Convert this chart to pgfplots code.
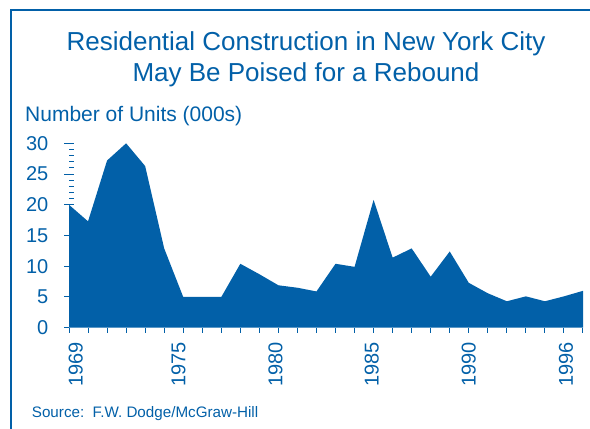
\documentclass[border=0pt]{standalone}
\usepackage{pgfplots}
\pgfplotsset{compat=1.18}
\usepackage{fontspec}
\setmainfont{Liberation Sans}
\definecolor{nyblue}{RGB}{2,96,168}
\pgfplotstableread{
year units
1969 20.0
1970 17.3
1971 27.2
1972 30.0
1973 26.3
1974 12.9
1975 5.0
1976 5.0
1977 5.0
1978 10.4
1979 8.7
1980 6.9
1981 6.5
1982 5.9
1983 10.4
1984 9.9
1985 20.8
1986 11.4
1987 12.9
1988 8.3
1989 12.4
1990 7.3
1991 5.6
1992 4.3
1993 5.1
1994 4.3
1995 5.1
1996 6.0
}\datatable
\begin{document}
\begin{tikzpicture}
\begin{axis}[
  at={(69bp,101.3bp)}, anchor=south west,
  scale only axis, width=514bp, height=184.4bp,
  xmin=1969, xmax=1996, ymin=0, ymax=30,
  axis lines*=left,
  axis line style={draw=none},
  xtick={1969,...,1996}, xticklabel=\empty,
  ytick={0,5,...,30},
  tick style={nyblue, line width=1bp},
  major tick length=5bp, tick align=outside,
  extra y ticks={20,21,...,30}, extra y tick labels={},
  extra y tick style={tick align=inside, major tick length=5bp},
  extra x ticks={1969.35,1974.75,1979.85,1984.9,1990,1995.1},
  extra x tick labels={1969,1975,1980,1985,1990,1996},
  extra x tick style={major tick length=0pt},
  /pgf/number format/assume math mode=true,
  ticklabel style={font=\fontsize{20bp}{24bp}\selectfont, text=nyblue},
  yticklabel style={anchor=east, inner sep=0pt, xshift=-15.5bp},
  xticklabel style={rotate=90, anchor=east, inner sep=0pt, yshift=0bp, xshift=-14.5bp},
  clip=false,
]
\addplot[fill=nyblue, draw=none] table[x=year, y=units] {\datatable} \closedcycle;
\end{axis}
\node[anchor=base, font=\fontsize{26bp}{31bp}\selectfont, text=nyblue] at (306bp, 378.7bp) {Residential Construction in New York City};
\node[anchor=base, font=\fontsize{26bp}{31bp}\selectfont, text=nyblue] at (306bp, 347.7bp) {May Be Poised for a Rebound};
\node[anchor=base west, font=\fontsize{21bp}{25bp}\selectfont, text=nyblue, inner sep=0pt] at (25bp, 307.3bp) {Number of Units (000s)};
\node[anchor=base west, font=\fontsize{15.2bp}{18bp}\selectfont, text=nyblue, inner sep=0pt] at (31.7bp, 11.4bp) {Source:\ \ F.W. Dodge/McGraw-Hill};
\draw[nyblue, line width=2bp] (11bp,0) -- (11bp,419bp) -- (590bp,419bp);
\pgfresetboundingbox
\useasboundingbox (0,0) rectangle (590bp,429bp);
\end{tikzpicture}
\end{document}
